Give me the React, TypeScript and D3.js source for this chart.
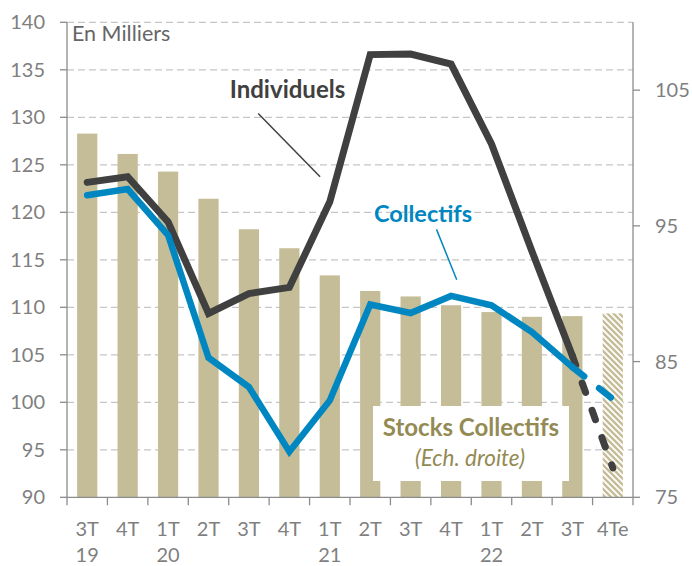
import React, { useRef, useEffect } from 'react';
import * as d3 from 'd3';

// quarters and years shown under the x axis
const quarters = ['3T', '4T', '1T', '2T', '3T', '4T', '1T', '2T', '3T', '4T', '1T', '2T', '3T', '4Te'];
const years = ['19', '', '20', '', '', '', '21', '', '', '', '22', '', '', ''];

// stocks collectifs (right axis), last one is an estimate (hatched)
const stocks = [101.8, 100.3, 99.0, 97.0, 94.75, 93.35, 91.35, 90.2, 89.8, 89.15, 88.65, 88.3, 88.35, 88.55];
// left axis, en milliers
const individuels = [123.15, 123.75, 119.0, 109.35, 111.45, 112.1, 121.1, 136.6, 136.65, 135.6, 127.2, 115.9, 104.9, 93.1];
const collectifs = [121.8, 122.45, 117.6, 104.7, 101.6, 94.8, 100.2, 110.3, 109.4, 111.2, 110.2, 107.4, 103.7, 100.35];

const leftTicks = [90, 95, 100, 105, 110, 115, 120, 125, 130, 135, 140];
const rightTicks = [75, 85, 95, 105];

const W = 692;
const H = 566;
const FONT = 'Lato, "Open Sans", sans-serif';
const TAN = '#C4BD97';
const OLIVE = '#948A54';
const DARK = '#404040';
const BLUE = '#0087C1';
const GREY = '#7F7F7F';

const Chart = () => {
  const svgRef = useRef<SVGSVGElement | null>(null);

  useEffect(() => {
    const svg = d3.select(svgRef.current);
    svg.selectAll('*').remove();

    const left = 67, right = 633, top = 22.3, bottom = 497.3;
    const idx = quarters.map((_, i) => i);
    const last = idx.length - 1;

    const x = d3.scaleBand<number>().domain(idx).range([left, right]).paddingInner(0.5).paddingOuter(0.25);
    const xc = (i: number) => (x(i) as number) + x.bandwidth() / 2;
    const xi = d3.scaleLinear().domain([-0.5, last + 0.5]).range([left, right]); // for annotations
    const yL = d3.scaleLinear().domain([90, 140]).range([bottom, top]);
    const yR = d3.scaleLinear().domain([75, 110]).range([bottom, top]);

    // hatch pattern for the estimate bar
    const defs = svg.append('defs');
    const pat = defs.append('pattern')
      .attr('id', 'hatch')
      .attr('patternUnits', 'userSpaceOnUse')
      .attr('width', 6)
      .attr('height', 6);
    pat.append('rect').attr('width', 6).attr('height', 6).attr('fill', 'white');
    pat.append('path')
      .attr('d', 'M0,0 L6,6 M-1.5,4.5 L1.5,7.5 M4.5,-1.5 L7.5,1.5')
      .attr('stroke', TAN)
      .attr('stroke-width', 2.4);

    // grid lines
    svg.append('g')
      .selectAll('line')
      .data(leftTicks.slice(1))
      .join('line')
      .attr('x1', left).attr('x2', right)
      .attr('y1', d => yL(d)).attr('y2', d => yL(d))
      .attr('stroke', '#C6C6C6')
      .attr('stroke-width', 1.3)
      .attr('stroke-dasharray', '7 4');

    // bars
    svg.append('g')
      .selectAll('rect')
      .data(stocks)
      .join('rect')
      .attr('x', (d, i) => x(i) as number)
      .attr('y', d => yR(d))
      .attr('width', x.bandwidth())
      .attr('height', d => yR(75) - yR(d))
      .attr('fill', (d, i) => (i === last ? 'url(#hatch)' : TAN));

    // legend box for the bars
    svg.append('rect')
      .attr('x', 373).attr('y', 406).attr('width', 196).attr('height', 75)
      .attr('fill', 'white');
    svg.append('text')
      .attr('x', 471).attr('y', 436)
      .attr('text-anchor', 'middle')
      .attr('font-family', FONT).attr('font-size', 24).attr('font-weight', 'bold')
      .attr('fill', OLIVE)
      .text('Stocks Collectifs');
    svg.append('text')
      .attr('x', 470).attr('y', 466)
      .attr('text-anchor', 'middle')
      .attr('font-family', FONT).attr('font-size', 22.5).attr('font-style', 'italic')
      .attr('fill', OLIVE)
      .text('(Ech. droite)');

    // axes
    const axisColor = '#8C8C8C';
    const ax = svg.append('g').attr('stroke', axisColor).attr('stroke-width', 1.3);
    ax.append('line').attr('x1', left).attr('x2', left).attr('y1', top).attr('y2', bottom);
    ax.append('line').attr('x1', right).attr('x2', right).attr('y1', top).attr('y2', bottom);
    ax.append('line').attr('x1', left).attr('x2', right).attr('y1', bottom).attr('y2', bottom);
    ax.selectAll('.lt').data(leftTicks).join('line')
      .attr('x1', left - 7).attr('x2', left)
      .attr('y1', d => yL(d)).attr('y2', d => yL(d));
    ax.selectAll('.rt').data(rightTicks).join('line')
      .attr('class', 'rt')
      .attr('x1', right).attr('x2', right + 7)
      .attr('y1', d => yR(d)).attr('y2', d => yR(d));
    ax.selectAll('.xt').data(d3.range(idx.length + 1)).join('line')
      .attr('class', 'xt')
      .attr('x1', d => xi(d - 0.5)).attr('x2', d => xi(d - 0.5))
      .attr('y1', bottom).attr('y2', bottom + 8);

    const labels = svg.append('g')
      .attr('font-family', FONT)
      .attr('font-size', 20)
      .attr('fill', GREY);
    labels.selectAll('.ll').data(leftTicks).join('text')
      .attr('x', 45).attr('y', d => yL(d) + 7)
      .attr('text-anchor', 'end')
      .text(d => d);
    labels.selectAll('.rl').data(rightTicks).join('text')
      .attr('class', 'rl')
      .attr('x', 655).attr('y', d => yR(d) + 7)
      .text(d => d);
    labels.selectAll('.ql').data(quarters).join('text')
      .attr('class', 'ql')
      .attr('x', (d, i) => xc(i)).attr('y', 536)
      .attr('text-anchor', 'middle')
      .text(d => d);
    labels.selectAll('.yl').data(years).join('text')
      .attr('class', 'yl')
      .attr('x', (d, i) => xc(i)).attr('y', 562)
      .attr('text-anchor', 'middle')
      .text(d => d);

    svg.append('text')
      .attr('x', 72).attr('y', 40.5)
      .attr('font-family', FONT).attr('font-size', 21.5)
      .attr('fill', '#666666')
      .text('En Milliers');

    // lines: solid up to 3T22, dashed to the estimate
    const drawSeries = (vals: number[], color: string, width: number, dash: string) => {
      const line = d3.line<number>().x((d, i) => xc(i)).y(d => yL(d));
      svg.append('path')
        .attr('d', line(vals.slice(0, last)))
        .attr('fill', 'none')
        .attr('stroke', color)
        .attr('stroke-width', width)
        .attr('stroke-linecap', 'round')
        .attr('stroke-linejoin', 'miter');
      const dl = d3.line<number>().x((d, i) => xc(last - 1 + i)).y(d => yL(d));
      svg.append('path')
        .attr('d', dl(vals.slice(last - 1)))
        .attr('fill', 'none')
        .attr('stroke', color)
        .attr('stroke-width', width)
        .attr('stroke-linecap', 'round')
        .attr('stroke-dasharray', dash);
    };
    drawSeries(individuels, DARK, 7, '10 19');
    drawSeries(collectifs, BLUE, 6.5, '15 19');

    // annotations with leader lines
    svg.append('line')
      .attr('x1', xi(4.23)).attr('y1', yL(130.4))
      .attr('x2', xi(5.76)).attr('y2', yL(123.75))
      .attr('stroke', DARK).attr('stroke-width', 1.5);
    svg.append('text')
      .attr('x', 287.5).attr('y', 98)
      .attr('text-anchor', 'middle')
      .attr('font-family', FONT).attr('font-size', 24).attr('font-weight', 'bold')
      .attr('fill', DARK)
      .text('Individuels');

    svg.append('line')
      .attr('x1', xi(8.64)).attr('y1', yL(118.2))
      .attr('x2', xi(9.14)).attr('y2', yL(112.9))
      .attr('stroke', BLUE).attr('stroke-width', 1.5);
    svg.append('text')
      .attr('x', 423).attr('y', 221.5)
      .attr('text-anchor', 'middle')
      .attr('font-family', FONT).attr('font-size', 23.5).attr('font-weight', 'bold')
      .attr('fill', BLUE)
      .text('Collectifs');
  }, []);

  return <svg ref={svgRef} width={W} height={H} style={{ position: 'absolute', left: 0, top: 0, background: 'white' }}></svg>;
};

export default function App() {
  return <Chart />;
}
